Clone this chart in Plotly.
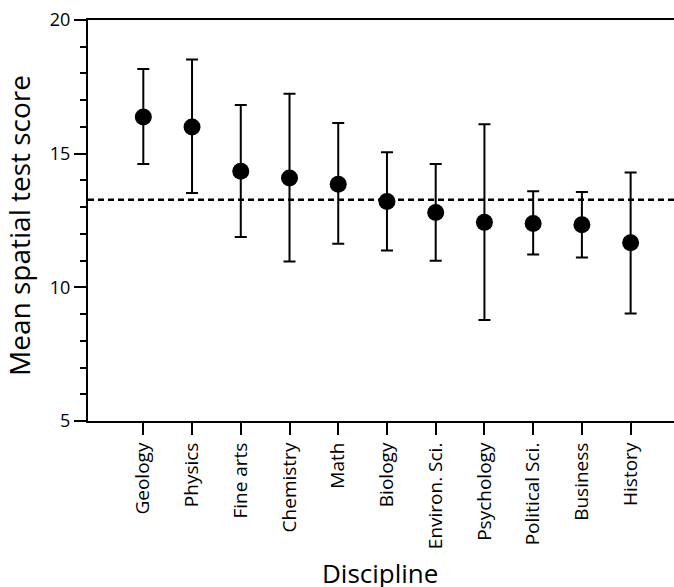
import plotly.graph_objects as go

disciplines = ["Geology", "Physics", "Fine arts", "Chemistry", "Math", "Biology",
               "Environ. Sci.", "Psychology", "Political Sci.", "Business", "History"]
mean_score = [16.37, 16.00, 14.34, 14.09, 13.86, 13.21, 12.80, 12.43, 12.39, 12.34, 11.67]
upper = [18.17, 18.52, 16.82, 17.24, 16.15, 15.05, 14.61, 16.10, 13.59, 13.57, 14.30]
lower = [14.61, 13.53, 11.88, 10.97, 11.63, 11.38, 10.99, 8.78, 11.23, 11.12, 9.02]
overall_mean = 13.28

err_plus = [u - m for u, m in zip(upper, mean_score)]
err_minus = [m - l for m, l in zip(mean_score, lower)]
xi = list(range(len(disciplines)))

FONT = "Open Sans"

fig = go.Figure()
fig.add_trace(go.Scatter(
    x=xi, y=mean_score, mode="markers",
    marker=dict(size=17, color="black"),
    error_y=dict(type="data", symmetric=False, array=err_plus, arrayminus=err_minus,
                 color="black", thickness=2, width=6),
    showlegend=False,
))
fig.add_shape(type="line", xref="paper", x0=0, x1=1, yref="y", y0=overall_mean, y1=overall_mean,
              line=dict(color="black", width=2.5, dash="6px,4px"))

fig.add_annotation(text="Mean spatial test score", xref="paper", yref="paper",
                   x=-0.118, y=0.4886, xanchor="center", yanchor="middle", textangle=-90,
                   showarrow=False, font=dict(size=28))
fig.add_annotation(text="Discipline", xref="paper", yref="paper",
                   x=0.4987, y=-0.378, xanchor="center", yanchor="middle",
                   showarrow=False, font=dict(size=26))

fig.update_layout(
    width=674, height=587,
    margin=dict(l=88, r=0, t=20, b=166, autoexpand=False),
    plot_bgcolor="white", paper_bgcolor="white",
    font=dict(family=FONT, color="black", size=17),
)
fig.update_xaxes(
    range=[-1.135, 10.89], tickmode="array", tickvals=xi, ticktext=disciplines,
    tickangle=-90, ticks="outside", ticklen=12, tickwidth=2, tickcolor="black",
    showline=True, linecolor="black", linewidth=2, mirror=True, showgrid=False, zeroline=False,
    tickfont=dict(size=19), automargin=False, ticklabeloverflow="allow",
)
fig.update_yaxes(
    range=[5, 20], tickvals=[5, 10, 15, 20], ticks="outside", ticklen=12, tickwidth=2,
    tickcolor="black", showline=True, linecolor="black", linewidth=2, showgrid=False,
    zeroline=False, tickfont=dict(size=18), automargin=False, ticklabeloverflow="allow",
    minor=dict(dtick=1, ticks="outside", ticklen=6, tickwidth=2, tickcolor="black", showgrid=False),
)
fig.write_html("out.html", config={"displayModeBar": False},
               post_script="document.body.style.margin='0px';")
